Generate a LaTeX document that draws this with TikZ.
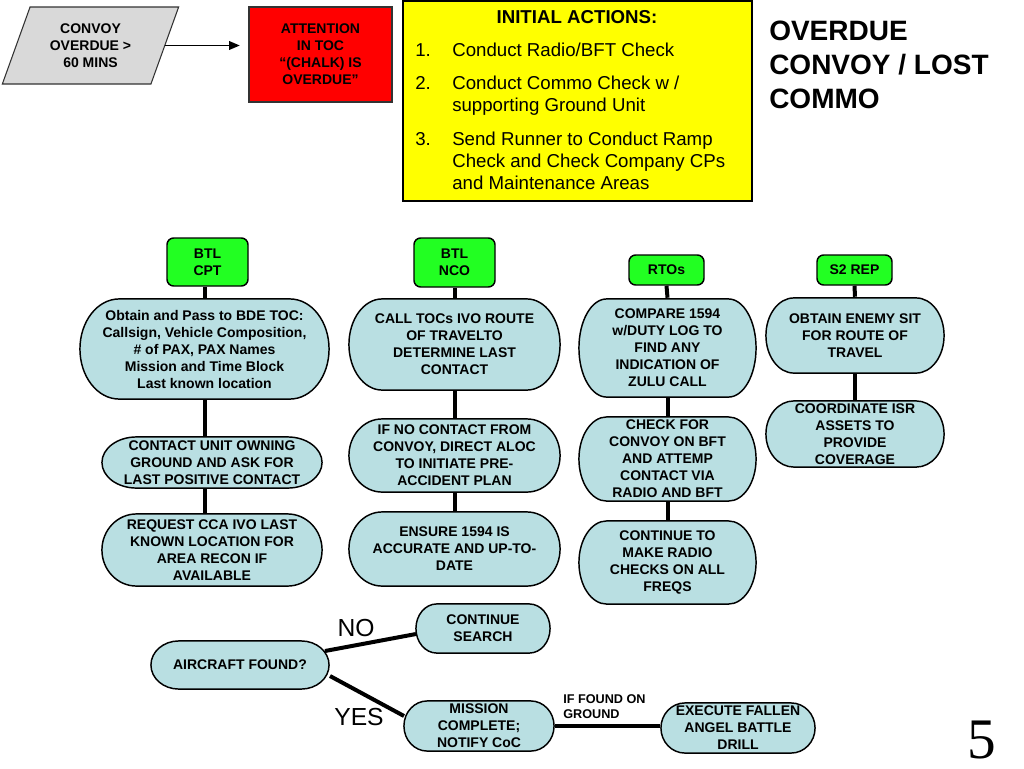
\documentclass[tikz,border=0pt]{standalone}
\usepackage{fontspec}
\setmainfont{Liberation Sans}
\newfontfamily\slidenumfont{Liberation Serif}
\usetikzlibrary{arrows.meta,shapes.geometric,calc}
\definecolor{odInk}{HTML}{000000}
\definecolor{odEdge}{HTML}{333333}
\definecolor{odBlue}{HTML}{B9DFE2}
\definecolor{odGreen}{HTML}{22FF22}
\definecolor{odRed}{HTML}{FF0000}
\definecolor{odYellow}{HTML}{FFFF00}
\definecolor{odGray}{HTML}{D9D9D9}
\tikzset{
  every picture/.style={text=odInk},
  od size/.style 2 args={minimum width=#1*0.75pt, minimum height=#2*0.75pt},
  od small/.style={font=\fontsize{10.5}{12.75}\selectfont\bfseries},
  od list/.style={font=\fontsize{14}{16.5}\selectfont, align=left, inner sep=0pt},
  od term/.style={od small, rectangle, align=center, inner sep=0pt,
    path picture={
      \path[draw=odInk, fill=odBlue, line width=1.1pt]
        let \p1=(path picture bounding box.north east),
            \p2=(path picture bounding box.south west),
            \n1={0.16*(\x1-\x2)}, \n2={0.5*(\y1-\y2)-0.7} in
        (\x2+\n1,\y1-0.7pt) -- (\x1-\n1,\y1-0.7pt)
        arc[start angle=90, end angle=-90, x radius={(\n1-0.7)*1pt}, y radius={\n2*1pt}]
        -- (\x2+\n1,\y2+0.7pt)
        arc[start angle=270, end angle=90, x radius={(\n1-0.7)*1pt}, y radius={\n2*1pt}]
        -- cycle;
    }},
  od role/.style={od small, draw=odInk, line width=1.1pt, fill=odGreen,
    rounded corners=5pt, align=center, inner sep=0pt},
  od link/.style={draw=odInk, line width=3pt, line cap=butt},
  od arrow/.style={-{Triangle[length=8pt,width=6.5pt]}, draw=odInk, line width=1.1pt}
}

\begin{document}
\begin{tikzpicture}[x=0.75pt,y=-0.75pt]
  \useasboundingbox (0,0) rectangle (1024,768);

  % header row
  \node[od size={177}{77}, trapezium, trapezium left angle=67, trapezium right angle=113,
    trapezium stretches=true, draw=odEdge, line width=0.8pt, fill=odGray,
    od small, align=center, inner sep=0pt] (late) at (90.5,45.5) {CONVOY\\OVERDUE >\\60 MINS};
  \node[od size={143}{95}, draw=odEdge, line width=0.8pt, fill=odRed, od small,
    align=center, inner sep=0pt] (alert) at (320.5,54.5) {ATTENTION\\IN TOC\\“(CHALK) IS\\OVERDUE”};
  \draw[od arrow, shorten >=6.5pt] (late.east) -- (late.east -| alert.west);

  \node[od size={349}{200}, draw=odInk, line width=1.8pt, fill=odYellow] (initial) at (577.5,101) {};
  \node[font=\fontsize{14}{16.5}\selectfont\bfseries, anchor=base, inner sep=0pt] (initT) at (577,23) {INITIAL ACTIONS:};
  % items first, numbers hang off their top left
  \node[od list, anchor=north west] (item1) at (452,43) {Conduct Radio/BFT Check};
  \node[od list, anchor=north west] (item2) at (452,76) {Conduct Commo Check w /\\supporting Ground Unit};
  \node[od list, anchor=north west] (item3) at (452,132) {Send Runner to Conduct Ramp\\Check and Check Company CPs\\and Maintenance Areas};
  \node[od list, anchor=north west] (num1) at ($(item1.north west)+(-37,0)$) {1.};
  \node[od list, anchor=north west] (num2) at ($(item2.north west)+(-37,0)$) {2.};
  \node[od list, anchor=north west] (num3) at ($(item3.north west)+(-37,0)$) {3.};

  \node[font=\fontsize{21}{25.5}\selectfont\bfseries, align=left, anchor=base west, inner sep=0pt]
    (title) at (769,108) {OVERDUE\\CONVOY / LOST\\COMMO};

  % role boxes
  \node[od role, od size={81}{48}] (cpt) at (207.5,262) {BTL\\CPT};
  \node[od role, od size={81}{49}] (nco) at (454.5,262.5) {BTL\\NCO};
  \node[od role, od size={75}{30}] (rto) at (666.5,270) {RTOs};
  \node[od role, od size={75}{30}] (s2) at (854.5,270) {S2 REP};

  % BTL CPT column
  \node[od term, od size={251}{102}] (cptA) at (204.5,349)
    {Obtain and Pass to BDE TOC:\\Callsign, Vehicle Composition,\\\# of PAX, PAX Names\\Mission and Time Block\\Last known location};
  \node[od term, od size={222}{53}] (cptB) at (212,462.5)
    {CONTACT UNIT OWNING\\GROUND AND ASK FOR\\LAST POSITIVE CONTACT};
  \node[od term, od size={222}{74}] (cptC) at (212,550)
    {REQUEST CCA IVO LAST\\KNOWN LOCATION FOR\\AREA RECON IF\\AVAILABLE};

  % BTL NCO column
  \node[od term, od size={213}{93}] (ncoA) at (454.5,344.5)
    {CALL TOCs IVO ROUTE\\OF TRAVELTO\\DETERMINE LAST\\CONTACT};
  \node[od term, od size={213}{75}] (ncoB) at (454.5,455.5)
    {IF NO CONTACT FROM\\CONVOY, DIRECT ALOC\\TO INITIATE PRE-\\ACCIDENT PLAN};
  \node[od term, od size={213}{76}] (ncoC) at (454.5,549)
    {ENSURE 1594 IS\\ACCURATE AND UP-TO-\\DATE};

  % RTOs column
  \node[od term, od size={179}{100}] (rtoA) at (667.5,348)
    {COMPARE 1594\\w/DUTY LOG TO\\FIND ANY\\INDICATION OF\\ZULU CALL};
  \node[od term, od size={179}{86}] (rtoB) at (667.5,459)
    {CHECK FOR\\CONVOY ON BFT\\AND ATTEMP\\CONTACT VIA\\RADIO AND BFT};
  \node[od term, od size={179}{85}] (rtoC) at (667.5,562.5)
    {CONTINUE TO\\MAKE RADIO\\CHECKS ON ALL\\FREQS};

  % S2 REP column
  \node[od term, od size={180}{77}] (s2A) at (855,335.5)
    {OBTAIN ENEMY SIT\\FOR ROUTE OF\\TRAVEL};
  \node[od term, od size={180}{68}] (s2B) at (855,434)
    {COORDINATE ISR\\ASSETS TO\\PROVIDE\\COVERAGE};

  % search outcome
  \node[od term, od size={136}{51}] (search) at (483,628.5) {CONTINUE\\SEARCH};
  \node[od term, od size={180}{50}] (found) at (240,665) {AIRCRAFT FOUND?};
  \node[od term, od size={152}{52}] (mission) at (479,726) {MISSION\\COMPLETE;\\NOTIFY CoC};
  \node[od term, od size={156}{52}] (fallen) at (738,728) {EXECUTE FALLEN\\ANGEL BATTLE\\DRILL};

  \draw[od link] (cptA.north |- cpt.south) -- (cptA.north);
  \draw[od link] (cptA.south) -- (cptA.south |- cptB.north);
  \draw[od link] (cptA.south |- cptB.south) -- (cptA.south |- cptC.north);
  \foreach \a/\b in {nco/ncoA, ncoA/ncoB, ncoB/ncoC, rto/rtoA, rtoA/rtoB, rtoB/rtoC, s2/s2A, s2A/s2B}
    \draw[od link] (\a.south) -- (\b.north);

  \draw[od link] ($(found.center)+(85,-14)$) -- ($(search.center)+(-67,5.5)$);
  \draw[od link] ($(found.center)+(90,11)$) -- ($(mission.center)+(-75,-10)$);
  \draw[od link] (mission.east) -- (mission.east -| fallen.west);

  \node[font=\fontsize{18.5}{20}\selectfont, inner sep=0pt] (noL) at (356,628) {NO};
  \node[font=\fontsize{18.5}{20}\selectfont, inner sep=0pt] (yesL) at (359,717) {YES};
  \node[font=\fontsize{9.5}{11.25}\selectfont\bfseries, align=left, anchor=west, inner sep=0pt]
    (groundL) at (563,707) {IF FOUND ON\\GROUND};

  \node[font=\slidenumfont\fontsize{43}{45}\selectfont, inner sep=0pt] (pageno) at (982,740) {5};
\end{tikzpicture}
\end{document}
